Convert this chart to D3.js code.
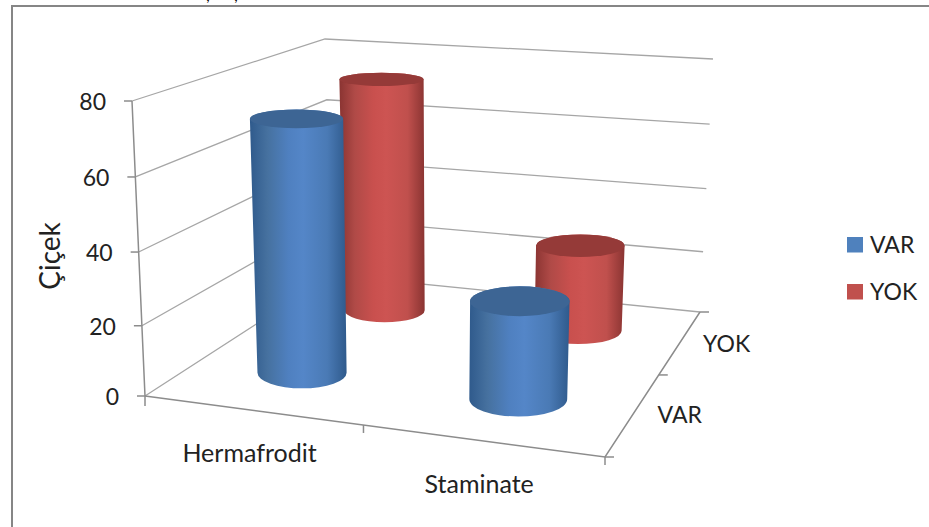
<!DOCTYPE html>
<html>
<head>
<meta charset="utf-8">
<script src="https://cdn.jsdelivr.net/npm/d3@7"></script>
<style>
  html, body { margin: 0; padding: 0; background: #fff; }
  svg { display: block; }
  text { font-family: Lato, "Open Sans", sans-serif; fill: #222; }
</style>
</head>
<body>
<div class="chart"></div>
<script>
    // Values
    const categories = ['Hermafrodit', 'Staminate'];
    const seriesNames = ['VAR', 'YOK'];
    const varValues = [72, 28];
    const yokValues = [73, 27];
    const yTicks = [0, 20, 40, 60, 80];
    const seriesColors = ['#4f81bd', '#c0504d'];

    const width = 929;
    const height = 527;

    // Corners of the 3D box as drawn: front-left, front-right, back-right, back-left
    const floorCorners = [[145, 396], [605, 457], [700, 312], [332, 275]];
    // The front-right top corner is not drawn, so it is fitted to the cylinder tops
    const ceilCorners = [[132, 101], [660, 150], [713, 59], [325, 39]];
    // Horizontal lean of the box between floor and top at the same four corners
    const leanX = [-13, 9, 13, -7];

    // Maps the unit square on to a quadrilateral so depth foreshortens
    function homography(q) {
      const [[x0, y0], [x1, y1], [x2, y2], [x3, y3]] = q;
      const dx1 = x1 - x2, dx2 = x3 - x2, sx = x0 - x1 + x2 - x3;
      const dy1 = y1 - y2, dy2 = y3 - y2, sy = y0 - y1 + y2 - y3;
      const den = dx1 * dy2 - dx2 * dy1;
      const g = (sx * dy2 - dx2 * sy) / den;
      const h = (dx1 * sy - sx * dy1) / den;
      const a = x1 - x0 + g * x1, b = x3 - x0 + h * x3;
      const d = y1 - y0 + g * y1, e = y3 - y0 + h * y3;
      return (u, v) => {
        const w = g * u + h * v + 1;
        return [(a * u + b * v + x0) / w, (d * u + e * v + y0) / w];
      };
    }

    const floorMap = homography(floorCorners);
    const ceilMap = homography(ceilCorners);

    const xScale = d3.scaleBand().domain(categories).range([0, 1]);
    const zScale = d3.scaleBand().domain(seriesNames).range([0, 1]);
    // Slight power curve: ticks spread out towards the top in the picture
    const yScale = d3.scalePow().exponent(1.035).domain([0, 80]).range([0, 1]);

    function project(u, v, value) {
      const t = yScale(value);
      const p0 = floorMap(u, v);
      const lean = (1 - v) * ((1 - u) * leanX[0] + u * leanX[1]) + v * (u * leanX[2] + (1 - u) * leanX[3]);
      return [p0[0] + lean * t, p0[1] + (ceilMap(u, v)[1] - p0[1]) * t];
    }

    const cylU = 0.108;
    const cylV = 0.11;

    function ellipseAt(u, v, value) {
      const l = project(u - cylU, v, value);
      const r = project(u + cylU, v, value);
      const f = project(u, v - cylV, value);
      const b = project(u, v + cylV, value);
      return {
        cx: (l[0] + r[0]) / 2,
        cy: (f[1] + b[1]) / 2,
        rx: (r[0] - l[0]) / 2,
        ry: Math.abs(f[1] - b[1]) / 2
      };
    }

    const svg = d3.select('.chart').append('svg')
        .attr('width', width)
        .attr('height', height);

    const defs = svg.append('defs');
    const gradientStops = [
      ['#2f5a8c', '#8a3432'],
      ['#46719f', '#b04a47'],
      ['#4f80c0', '#c9504e'],
      ['#5486c8', '#cd5452'],
      ['#4a7ab5', '#c0504d'],
      ['#2f5a8c', '#8a3432']
    ];
    const stopOffsets = [0, 0.18, 0.4, 0.55, 0.8, 1];
    seriesNames.forEach((name, i) => {
      defs.append('linearGradient')
          .attr('id', `grad-${name}`)
        .selectAll('stop')
        .data(gradientStops)
        .enter().append('stop')
          .attr('offset', (d, k) => stopOffsets[k])
          .attr('stop-color', d => d[i]);
    });

    // Frame of the chart area, cut by the edge of the picture
    svg.append('path')
        .attr('d', `M12,${height} V6 H${width}`)
        .attr('fill', 'none')
        .attr('stroke', '#868686')
        .attr('stroke-width', 2);

    // Descenders of a caption cropped away above the frame
    svg.selectAll('.crop')
        .data([208, 236])
        .enter().append('text')
          .attr('class', 'crop')
          .attr('x', d => d)
          .attr('y', 1)
          .attr('text-anchor', 'middle')
          .attr('font-size', 15)
          .style('fill', '#000')
          .text(',');

    const gridColor = '#a6a6a6';
    const axisColor = '#8c8c8c';
    const line = d3.line();

    // Gridlines along left and back walls
    const grid = svg.append('g').attr('class', 'grid');
    grid.selectAll('path')
        .data(yTicks)
        .enter().append('path')
          .attr('d', d => line([project(0, 0, d), project(0, 1, d), project(1, 1, d)]))
          .attr('fill', 'none')
          .attr('stroke', gridColor)
          .attr('stroke-width', 1.3);

    // Axes
    const axes = svg.append('g').attr('class', 'axes')
        .attr('fill', 'none')
        .attr('stroke', axisColor)
        .attr('stroke-width', 1.5);
    axes.append('path').attr('d', line([project(0, 0, 80), project(0, 0, 0), [floorCorners[0][0], floorCorners[0][1] + 10]]));
    axes.append('path').attr('d', line([project(0, 0, 0), project(1, 0, 0), project(1, 1, 0)]));
    axes.selectAll('.ytick')
        .data(yTicks)
        .enter().append('path')
          .attr('class', 'ytick')
          .attr('d', d => {
            const p = project(0, 0, d);
            return line([[p[0] - 8, p[1]], p]);
          });
    axes.selectAll('.xtick')
        .data([0.5, 1])
        .enter().append('path')
          .attr('class', 'xtick')
          .attr('d', d => {
            const p = project(d, 0, 0);
            return line([p, [p[0], p[1] + 8]]);
          });
    axes.selectAll('.ztick')
        .data([0, 0.5, 1])
        .enter().append('path')
          .attr('class', 'ztick')
          .attr('d', d => {
            const p = project(1, d, 0);
            return line([p, [p[0] + 9, p[1]]]);
          });

    // Cylinders, back row first
    const rows = [
      { name: 'YOK', values: yokValues, colorIndex: 1 },
      { name: 'VAR', values: varValues, colorIndex: 0 }
    ];
    const topColors = ['#3d6594', '#953a38'];

    rows.forEach((row) => {
      const v = zScale(row.name) + zScale.bandwidth() / 2;
      const g = svg.append('g').attr('class', `series-${row.name}`);
      const cyl = g.selectAll('g')
          .data(categories.map((c, i) => ({ category: c, value: row.values[i] })))
          .enter().append('g');

      cyl.append('path')
          .attr('fill', `url(#grad-${row.name})`)
          .attr('d', d => {
            const u = xScale(d.category) + xScale.bandwidth() / 2;
            const b = ellipseAt(u, v, 0);
            const t = ellipseAt(u, v, d.value);
            return `M${t.cx - t.rx},${t.cy}` +
              `L${b.cx - b.rx},${b.cy}` +
              `A${b.rx},${b.ry} 0 0 0 ${b.cx + b.rx},${b.cy}` +
              `L${t.cx + t.rx},${t.cy}` +
              `A${t.rx},${t.ry} 0 0 0 ${t.cx - t.rx},${t.cy}Z`;
          });

      cyl.append('ellipse')
          .attr('fill', topColors[row.colorIndex])
          .each(function(d) {
            const u = xScale(d.category) + xScale.bandwidth() / 2;
            const t = ellipseAt(u, v, d.value);
            d3.select(this)
                .attr('cx', t.cx)
                .attr('cy', t.cy)
                .attr('rx', t.rx)
                .attr('ry', t.ry);
          });
    });

    // Tick labels
    svg.selectAll('.ylabel')
        .data(yTicks)
        .enter().append('text')
          .attr('class', 'ylabel')
          .attr('x', d => project(0, 0, d)[0] - 26)
          .attr('y', d => project(0, 0, d)[1] + 9)
          .attr('text-anchor', 'end')
          .attr('font-size', 23)
          .text(d => d);

    svg.selectAll('.xlabel')
        .data(categories)
        .enter().append('text')
          .attr('class', 'xlabel')
          .attr('x', d => project(xScale(d) + xScale.bandwidth() / 2, 0, 0)[0] - 2)
          .attr('y', d => project(xScale(d) + xScale.bandwidth() / 2, 0, 0)[1] + 52)
          .attr('text-anchor', 'middle')
          .attr('font-size', 25)
          .text(d => d);

    svg.selectAll('.zlabel')
        .data(seriesNames)
        .enter().append('text')
          .attr('class', 'zlabel')
          .attr('x', d => project(1, zScale(d) + zScale.bandwidth() / 2, 0)[0] + 46)
          .attr('y', d => project(1, zScale(d) + zScale.bandwidth() / 2, 0)[1] + 10)
          .attr('text-anchor', 'middle')
          .attr('font-size', 23)
          .text(d => d);

    svg.append('text')
        .attr('transform', 'translate(60,256) rotate(-90)')
        .attr('text-anchor', 'middle')
        .attr('font-size', 28)
        .text('Çiçek');

    // Legend
    const legend = svg.selectAll('.legend')
        .data(seriesNames)
        .enter().append('g')
          .attr('class', 'legend')
          .attr('transform', (d, i) => `translate(847,${237 + i * 47})`);
    legend.append('rect')
        .attr('width', 16)
        .attr('height', 15.5)
        .attr('fill', (d, i) => seriesColors[i]);
    legend.append('text')
        .attr('x', 23)
        .attr('y', 16)
        .attr('font-size', 23)
        .text(d => d);
</script>
</body>
</html>
